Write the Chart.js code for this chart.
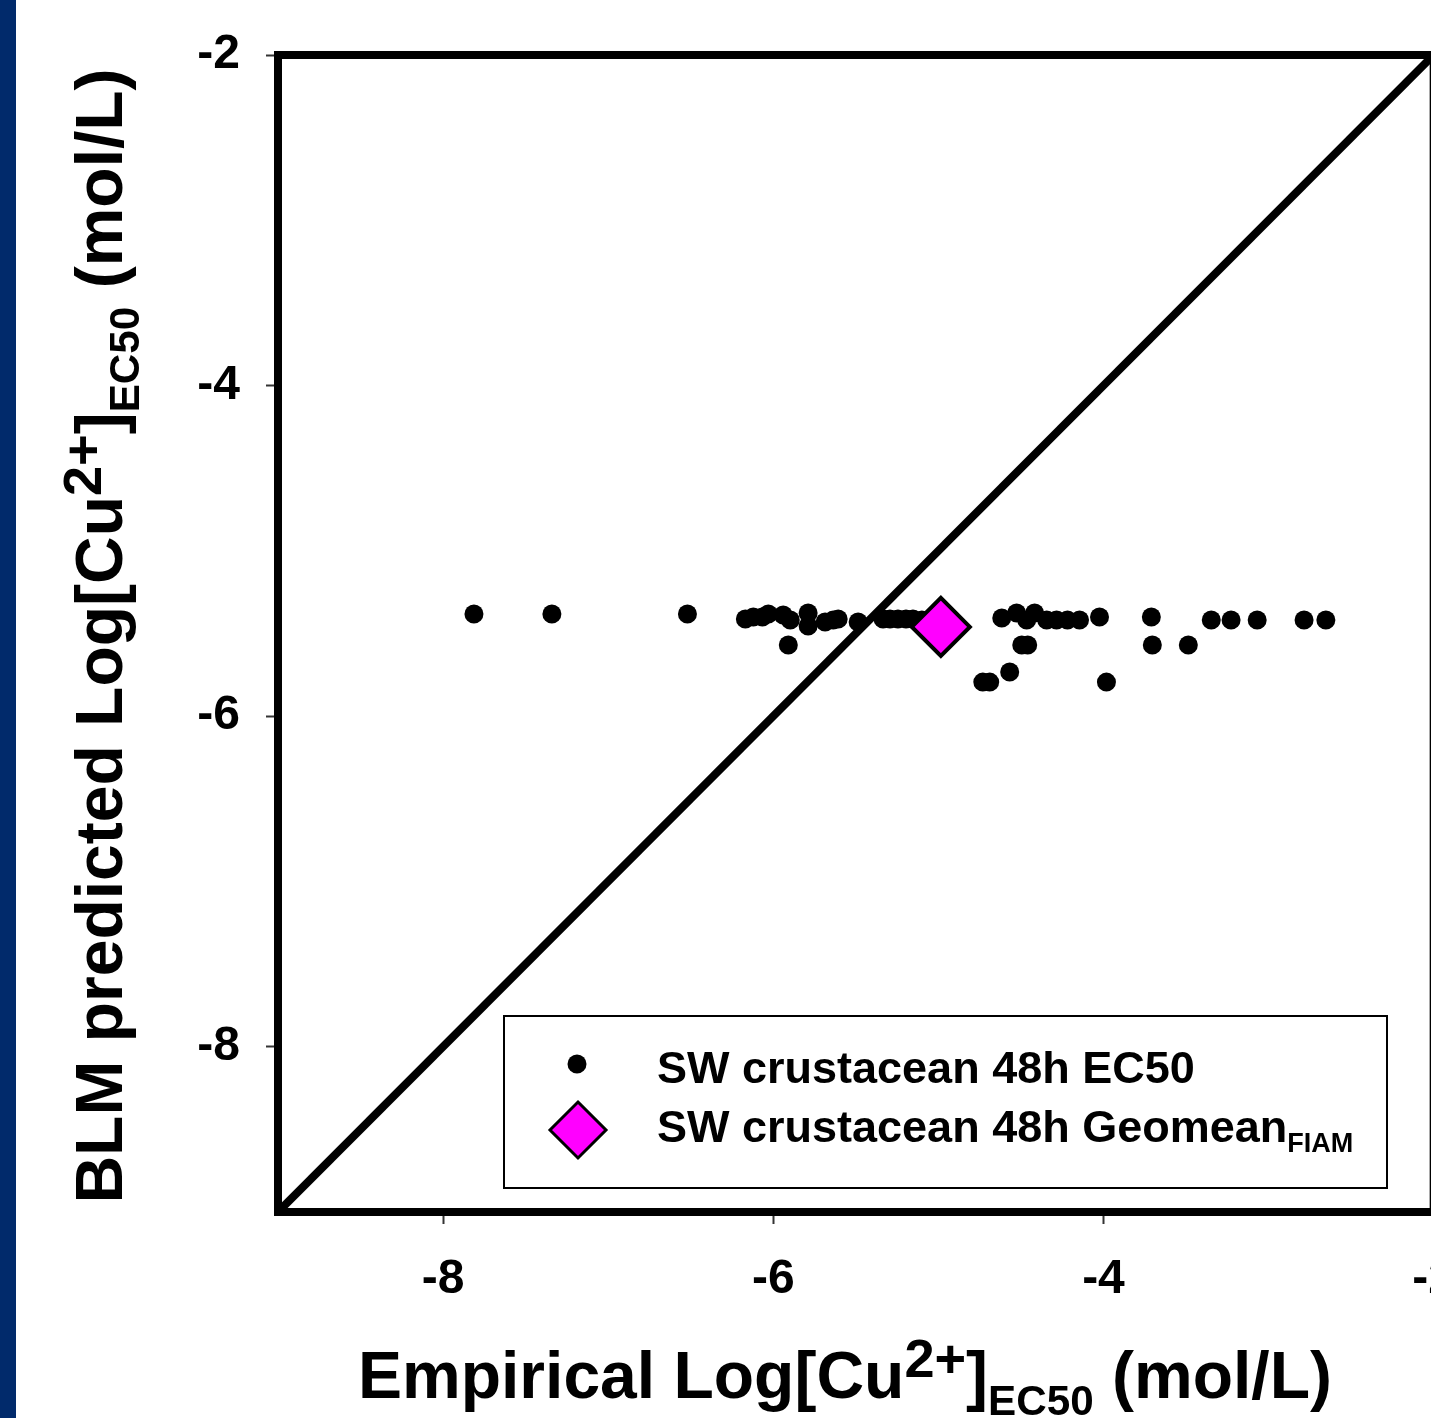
<!DOCTYPE html>
<html><head><meta charset="utf-8">
<script src="https://cdn.jsdelivr.net/npm/chart.js@4.4.0/dist/chart.umd.min.js"></script>
<style>
html,body{margin:0;padding:0;background:#fff;overflow:hidden;width:1431px;height:1418px;}
#wrap{position:absolute;left:0;top:0;width:1482px;height:1418px;}
#stripe{position:absolute;left:0;top:0;width:16px;height:1418px;background:#012a6b;z-index:2}
</style></head><body>
<div id="wrap"><canvas id="c" width="1482" height="1418"></canvas></div>
<div id="stripe"></div>
<script>
const xTicks = [-8, -6, -4, -2];
const yTicks = [-2, -4, -6, -8];
const ec50X = [-7.813,-7.341,-6.520,-6.169,-6.121,-6.066,-6.030,-5.940,-5.897,-5.789,-5.789,-5.686,-5.637,-5.607,-5.486,-5.335,-5.293,-5.245,-5.196,-5.154,-5.100,-5.909,-4.616,-4.526,-4.465,-4.417,-4.344,-4.284,-4.218,-4.145,-4.024,-4.495,-4.459,-4.731,-4.689,-4.568,-3.982,-3.710,-3.347,-3.227,-3.069,-2.785,-2.653,-3.704,-3.486];
const ec50Y = [-5.382,-5.382,-5.382,-5.412,-5.400,-5.400,-5.382,-5.388,-5.418,-5.376,-5.455,-5.430,-5.418,-5.412,-5.430,-5.412,-5.412,-5.412,-5.412,-5.412,-5.418,-5.570,-5.406,-5.376,-5.418,-5.376,-5.418,-5.418,-5.418,-5.418,-5.400,-5.570,-5.570,-5.794,-5.794,-5.733,-5.794,-5.400,-5.418,-5.418,-5.418,-5.418,-5.418,-5.570,-5.570];
const geomeanX = [-4.985];
const geomeanY = [-5.46];
const oneToOneX = [-9, -2];
const oneToOneY = [-9, -2];

const FONT = '"Liberation Sans", Arial, sans-serif';
function pts(xs, ys){ return xs.map((x,i)=>({x:x, y:ys[i]})); }

function richWidth(ctx, segs, base){
  let w=0;
  segs.forEach(s=>{ ctx.font = 'bold '+(base*s.s)+'px '+FONT; w += ctx.measureText(s.t).width; });
  return w;
}
function drawRich(ctx, segs, base, x, y){
  let cx = x;
  segs.forEach(s=>{
    ctx.font = 'bold '+(base*s.s)+'px '+FONT;
    ctx.fillText(s.t, cx, y + s.dy*base);
    cx += ctx.measureText(s.t).width;
  });
}

const decor = {
  id:'decor',
  afterDraw(chart){
    const ctx = chart.ctx, a = chart.chartArea;
    ctx.save();
    // frame
    ctx.strokeStyle='#000'; ctx.lineWidth=8;
    ctx.strokeRect(a.left, a.top, a.right-a.left, a.bottom-a.top);
    // legend box
    ctx.fillStyle='#fff'; ctx.fillRect(504,1016,883,172);
    ctx.lineWidth=2; ctx.strokeStyle='#000'; ctx.strokeRect(504,1016,883,172);
    ctx.fillStyle='#000';
    ctx.beginPath(); ctx.arc(577,1064,9.5,0,Math.PI*2); ctx.fill();
    ctx.beginPath(); ctx.moveTo(578,1102); ctx.lineTo(606,1130); ctx.lineTo(578,1158); ctx.lineTo(550,1130); ctx.closePath();
    ctx.fillStyle='#ff00ff'; ctx.fill(); ctx.lineWidth=3; ctx.strokeStyle='#000'; ctx.stroke();
    ctx.fillStyle='#000'; ctx.textBaseline='alphabetic'; ctx.textAlign='left';
    drawRich(ctx,[{t:'SW crustacean 48h EC50',s:1,dy:0}],45,657,1083);
    drawRich(ctx,[{t:'SW crustacean 48h Geomean',s:1,dy:0},{t:'FIAM',s:0.6,dy:0.22}],45,657,1142);
    // x title
    const xs=[{t:'Empirical Log[Cu',s:1,dy:0},{t:'2+',s:0.82,dy:-0.32},{t:']',s:1,dy:0},{t:'EC50',s:0.64,dy:0.26},{t:' (mol/L)',s:1,dy:0}];
    const base=66;
    let w=richWidth(ctx,xs,base);
    drawRich(ctx,xs,base,845-w/2,1398);
    // y title
    const ys=[{t:'BLM predicted Log[Cu',s:1,dy:0},{t:'2+',s:0.82,dy:-0.32},{t:']',s:1,dy:0},{t:'EC50',s:0.64,dy:0.26},{t:' (mol/L)',s:1,dy:0}];
    w=richWidth(ctx,ys,base);
    ctx.translate(122,636); ctx.rotate(-Math.PI/2);
    drawRich(ctx,ys,base,-w/2,0);
    ctx.restore();
  }
};

new Chart(document.getElementById('c').getContext('2d'), {
  type:'scatter',
  data:{datasets:[
    {label:'SW crustacean 48h Geomean', data:pts(geomeanX,geomeanY), pointStyle:'rectRot', pointRadius:29, backgroundColor:'#ff00ff', borderColor:'#000', borderWidth:4},
    {label:'SW crustacean 48h EC50', data:pts(ec50X,ec50Y), pointStyle:'circle', pointRadius:9.5, backgroundColor:'#000', borderColor:'#000', borderWidth:0},
    {label:'1:1', data:pts(oneToOneX,oneToOneY), showLine:true, borderColor:'#000', borderWidth:8, pointRadius:0, fill:false}
  ]},
  options:{
    responsive:false, animation:false, devicePixelRatio:1,
    layout:{padding:{left:0,right:2,top:55,bottom:0}},
    plugins:{legend:{display:false}, tooltip:{enabled:false}},
    scales:{
      x:{type:'linear', min:-9, max:-2,
        afterBuildTicks:s=>{ s.ticks = xTicks.map(v=>({value:v})); },
        afterFit:s=>{ s.height = 206; },
        grid:{display:true, drawOnChartArea:false, drawTicks:true, tickLength:12, tickWidth:2, tickColor:'#333'},
        border:{display:false},
        ticks:{font:{family:FONT, size:48, weight:'bold'}, color:'#000', padding:27, maxRotation:0, autoSkip:false}
      },
      y:{type:'linear', min:-9, max:-2,
        afterBuildTicks:s=>{ s.ticks = yTicks.map(v=>({value:v})); },
        afterFit:s=>{ s.width = 278; },
        grid:{display:true, drawOnChartArea:false, drawTicks:true, tickLength:12, tickWidth:2, tickColor:'#333'},
        border:{display:false},
        ticks:{font:{family:FONT, size:48, weight:'bold'}, color:'#000', padding:26, autoSkip:false}
      }
    }
  },
  plugins:[decor]
});
</script>
</body></html>
